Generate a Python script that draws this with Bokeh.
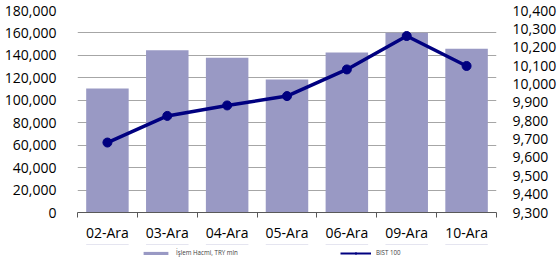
from bokeh.plotting import figure
from bokeh.layouts import column
from bokeh.models import (Range1d, LinearAxis, FixedTicker, NumeralTickFormatter,
                          Legend, LegendItem, ColumnDataSource)
from bokeh.embed import file_html
from bokeh.resources import INLINE

categories = ["02-Ara", "03-Ara", "04-Ara", "05-Ara", "06-Ara", "09-Ara", "10-Ara"]
volume = [110500, 144500, 138000, 118500, 142500, 160200, 146000]
bist100 = [9681, 9826, 9883, 9934, 10079, 10261, 10098]
left_ticks = [0, 20000, 40000, 60000, 80000, 100000, 120000, 140000, 160000, 180000]
right_ticks = [9300, 9400, 9500, 9600, 9700, 9800, 9900, 10000, 10100, 10200, 10300, 10400]
series_names = ["İşlem Hacmi, TRY mln", "BIST 100"]

FONT = "Open Sans"
BAR_COLOR = "#9999C4"
LINE_COLOR = "#000080"
xs = [i + 0.5 for i in range(len(categories))]
src = ColumnDataSource(dict(x=xs, vol=volume, bist=bist100, cat=categories))

p = figure(width=559, height=244, output_backend="svg", toolbar_location=None,
           x_range=Range1d(0, len(categories)), y_range=Range1d(left_ticks[0], left_ticks[-1]),
           min_border_left=77, min_border_right=62, min_border_top=10, min_border_bottom=31)
p.outline_line_color = None
p.background_fill_color = "white"
p.border_fill_color = "white"

p.extra_y_ranges = {"bist": Range1d(right_ticks[0], right_ticks[-1])}

bars = p.vbar(x="x", top="vol", width=0.71, source=src, fill_color=BAR_COLOR,
              line_color=None)
ln = p.line(x="x", y="bist", source=src, y_range_name="bist", line_color=LINE_COLOR,
            line_width=3.5)
pts = p.scatter(x="x", y="bist", source=src, y_range_name="bist", size=9,
                fill_color=LINE_COLOR, line_color=LINE_COLOR)

# x axis
xa = p.xaxis[0]
xa.ticker = FixedTicker(ticks=xs, minor_ticks=list(range(len(categories) + 1)))
xa.major_label_overrides = {x: c for x, c in zip(xs, categories)}
xa.major_tick_line_color = None
xa.major_tick_out = 0
xa.minor_tick_out = 5
xa.minor_tick_in = 0
xa.minor_tick_line_color = "#595959"
xa.axis_line_color = "#595959"
xa.major_label_standoff = 5
xa.major_label_text_font = FONT
xa.major_label_text_font_size = "14px"
xa.major_label_text_color = "#000000"

# left axis
ya = p.yaxis[0]
ya.ticker = FixedTicker(ticks=left_ticks)
ya.formatter = NumeralTickFormatter(format="0,0")
ya.axis_line_color = None
ya.major_tick_line_color = None
ya.minor_tick_line_color = None
ya.major_label_standoff = 15
ya.major_label_text_font = FONT
ya.major_label_text_font_size = "14px"
ya.major_label_text_color = "#000000"

# right axis
ra = LinearAxis(y_range_name="bist", ticker=FixedTicker(ticks=right_ticks),
                formatter=NumeralTickFormatter(format="0,0"))
ra.axis_line_color = None
ra.major_tick_line_color = None
ra.minor_tick_line_color = None
ra.major_label_standoff = 10
ra.major_label_text_font = FONT
ra.major_label_text_font_size = "14px"
ra.major_label_text_color = "#000000"
p.add_layout(ra, "right")

p.xgrid.grid_line_color = None
p.ygrid.ticker = FixedTicker(ticks=left_ticks)
p.ygrid.grid_line_color = "#A6A6A6"
p.ygrid.grid_line_width = 1

# legend strip (separate figure so the legend is not clipped by the plot frame)
lg = figure(width=559, height=16, output_backend="svg", toolbar_location=None,
            x_range=Range1d(0, len(categories)), y_range=Range1d(-2, -1),
            x_axis_location=None, y_axis_location=None,
            min_border=0, min_border_left=0, min_border_right=0,
            min_border_top=0, min_border_bottom=0)
lg.grid.visible = False
lg.outline_line_color = None
lg.background_fill_color = "white"
lg.border_fill_color = "white"
lbars = lg.vbar(x="x", top="vol", width=0.71, source=src, fill_color=BAR_COLOR,
                line_color=None)
lln = lg.line(x="x", y="bist", source=src, line_color=LINE_COLOR, line_width=2)
lpts = lg.scatter(x="x", y="bist", source=src, size=4, fill_color=LINE_COLOR,
                  line_color=LINE_COLOR)

legend = Legend(items=[LegendItem(label=series_names[0], renderers=[lbars]),
                       LegendItem(label=series_names[1], renderers=[lln, lpts])],
                orientation="horizontal", location=(63, 3),
                label_text_font=FONT, label_text_font_size="6.2px",
                label_text_color="#404040",
                label_height=8, glyph_height=4, glyph_width=31,
                padding=0, margin=0, spacing=102, label_standoff=5,
                border_line_color=None, background_fill_alpha=0)
lg.add_layout(legend, "center")

layout = column(p, lg, spacing=0)
open("out.html", "w").write(file_html(layout, INLINE))
